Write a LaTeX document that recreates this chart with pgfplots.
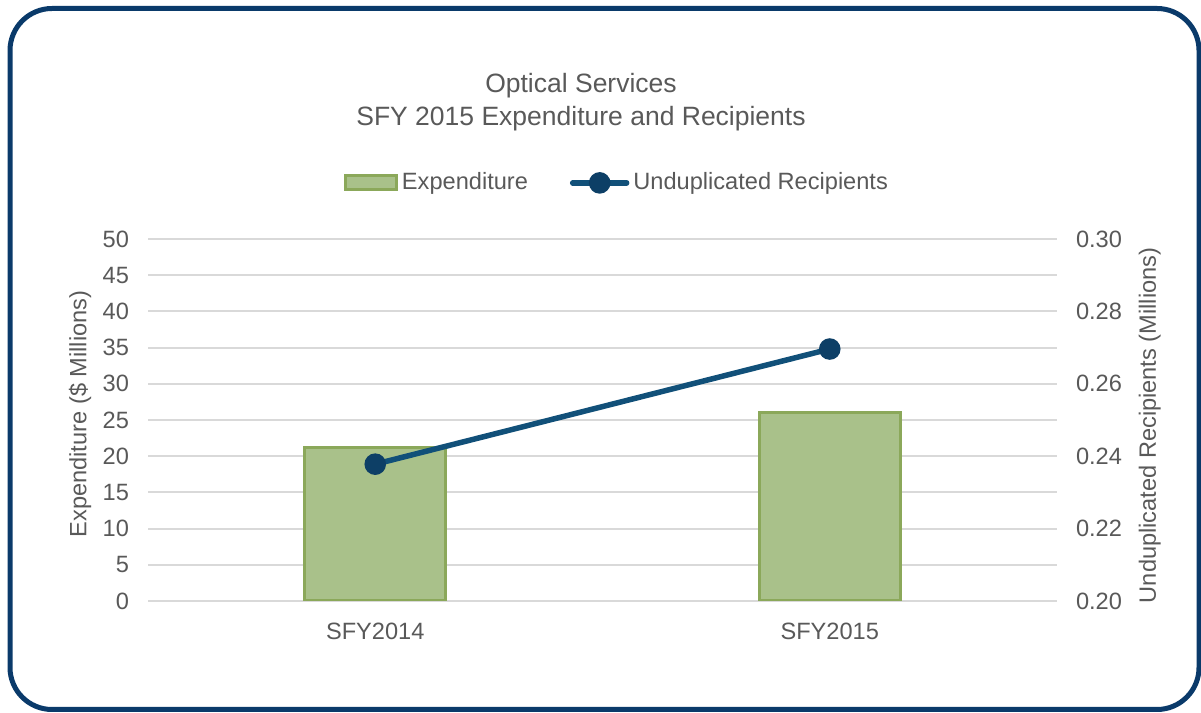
\documentclass[border=0pt]{standalone}
\usepackage{pgfplots}
\pgfplotsset{compat=1.18}
\usepackage{fontspec}
\setmainfont{Liberation Sans}
\definecolor{txt}{HTML}{595959}
\definecolor{gridc}{HTML}{D9D9D9}
\definecolor{barfill}{HTML}{A9C18A}
\definecolor{bardraw}{HTML}{8BA85A}
\definecolor{linec}{HTML}{115079}
\definecolor{markc}{HTML}{0D3F66}
\definecolor{borderc}{RGB}{10,58,106}
\newcommand{\tickfont}{\fontsize{11.8bp}{14bp}\selectfont}
\begin{document}
\begin{tikzpicture}
\path[use as bounding box] (0,0) rectangle (600.5bp,356.5bp);
\draw[line width=2.5bp, color=borderc, rounded corners=21bp] (5bp,1.75bp) rectangle (599.5bp,352.25bp);
\node[align=center, text=txt, font=\fontsize{13.25bp}{16.5bp}\selectfont] at (290.5bp,305.5bp) {Optical Services\\SFY 2015 Expenditure and Recipients};
\begin{axis}[
  at={(74bp,56bp)}, anchor=south west, scale only axis,
  width=454.5bp, height=181bp,
  xmin=-0.5, xmax=1.5, ymin=0, ymax=50,
  xtick={0,1}, xticklabels={SFY2014,SFY2015},
  ytick={0,5,...,50},
  ymajorgrids, grid style={color=gridc, line width=1bp},
  axis line style={draw=none}, tick style={draw=none},
  ticklabel style={text=txt, font=\tickfont},
  /pgf/number format/assume math mode=true,
  yticklabel style={xshift=-6bp},
  xticklabel style={yshift=-7.5bp},
  ylabel={Expenditure (\$ Millions)},
  ylabel style={at={(axis description cs:-0.0748,0.5166)}, anchor=center, text=txt, font=\tickfont},
  legend columns=2,
  legend style={draw=none, fill=none, at={(axis description cs:0.517,1.155)}, anchor=center, font=\tickfont, text=txt,
    /tikz/every even column/.append style={column sep=19bp}, inner sep=0pt},
]
\addplot[ybar, bar width=70.5bp, fill=barfill, draw=bardraw, line width=1.6bp,
  area legend, legend image code/.code={\draw[fill=barfill, draw=bardraw, line width=1.5bp] (0bp,-3.5bp) rectangle (25.5bp,3.5bp);}]
  coordinates {(0,21.2) (1,26.0)};
\addlegendentry{Expenditure}
\addlegendimage{line width=2.75bp, color=linec, legend image code/.code={\draw[line width=2.75bp, color=linec, line cap=round] (0bp,0bp) -- (27bp,0bp); \fill[markc] (13.5bp,0bp) circle (4bp);}}
\addlegendentry{Unduplicated Recipients}
\end{axis}
\begin{axis}[
  at={(74bp,56bp)}, anchor=south west, scale only axis,
  width=454.5bp, height=181bp,
  xmin=-0.5, xmax=1.5, ymin=0.2, ymax=0.3,
  axis x line=none, axis y line*=right,
  ytick={0.2,0.22,...,0.3},
  /pgf/number format/fixed, /pgf/number format/fixed zerofill, /pgf/number format/precision=2,
  axis line style={draw=none}, tick style={draw=none},
  ticklabel style={text=txt, font=\tickfont},
  /pgf/number format/assume math mode=true,
  yticklabel style={xshift=6bp},
  ylabel={Unduplicated Recipients (Millions)},
  ylabel style={at={(axis description cs:1.102,0.485)}, anchor=center, rotate=0, text=txt, font=\tickfont},
]
\addplot[color=linec, line width=2.75bp, mark=*, mark size=4bp, mark options={fill=markc, draw=markc}]
  coordinates {(0,0.2378) (1,0.2696)};
\end{axis}
\end{tikzpicture}
\end{document}
